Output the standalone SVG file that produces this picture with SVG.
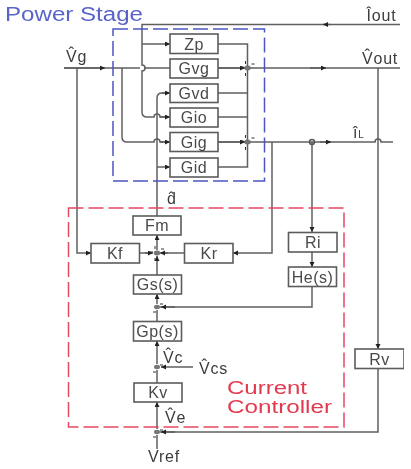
<svg xmlns="http://www.w3.org/2000/svg" xmlns:xlink="http://www.w3.org/1999/xlink" width="411" height="469" viewBox="0 0 411 469">
<style>
text{font-family:"Liberation Sans",Arial,sans-serif}
.b rect{fill:#fff;stroke:#5c5c5c;stroke-width:1.6}
.b text{font-size:16px;fill:#4a4a4a;text-anchor:middle;letter-spacing:.5px}
.c path{fill:none;stroke:#5f5f5f;stroke-width:1.5}
.c path.a{marker-end:url(#ah)}
.l{font-size:16px;fill:#3c3c3c;letter-spacing:.8px}
.s ellipse{fill:#777;stroke:#666;stroke-width:.6}
.s path{stroke:#333;stroke-width:1;fill:none}
</style>
<defs>
<marker id="ah" markerUnits="userSpaceOnUse" markerWidth="6" markerHeight="6" refX="5" refY="2.5" orient="auto"><path d="M0 0L5 2.5L0 5z" fill="#222"/></marker>
<filter id="soft" x="0" y="0" width="100%" height="100%"><feGaussianBlur stdDeviation="0.45"/></filter>
<g id="sj" class="s"><ellipse rx="3" ry="2.2"/><path d="M-2 -7v3M-7 -1h3M-2 5v3M4 -4h3"/></g>
</defs>
<rect width="411" height="469" fill="#fff"/>
<g filter="url(#soft)">
<g id="connectors" class="c">
<path d="M400 24.500H142V44"/>
<path class="a" d="M330 24.500H323"/>
<path class="a" d="M142 44H170"/>
<path d="M64 68H140M145 68H170"/>
<path class="a" d="M64 68H105"/>
<path d="M142 44V65A3 3 0 0 1 142 71V112Q142 117 147 117H154A3 3 0 0 1 160 117H170"/>
<path class="a" d="M160 117H170"/>
<path d="M122 68V137Q122 142 127 142H154A3 3 0 0 1 160 142H170"/>
<path class="a" d="M160 142H170"/>
<path class="a" d="M77 68V253H91"/>
<path d="M157 216V98Q157 93 162 93H170"/>
<path class="a" d="M162 93H170"/>
<path class="a" d="M157 167H170"/>
<path d="M218 44H247.500V142M218 93H247.500M218 117H247.500M218 167H247.500V142"/>
<path d="M218 68H400"/>
<path class="a" d="M218 68H245"/>
<path class="a" d="M310 68H326"/>
<path d="M218 142H375A3 3 0 0 1 381 142H393"/>
<path class="a" d="M218 142H245"/>
<path class="a" d="M320 142H331"/>
<path class="a" d="M312 142V232"/>
<path class="a" d="M312 252V267"/>
<path d="M312 286.500V307H160"/>
<path class="a" d="M175 307H161"/>
<path class="a" d="M272 142V253H233"/>
<path d="M184 253H161"/>
<path class="a" d="M168 253H160"/>
<path d="M139.500 253H152"/>
<path class="a" d="M145 253H153"/>
<path class="a" d="M157 275V256"/>
<path class="a" d="M157 250V235"/>
<path class="a" d="M157 304V294"/>
<path d="M157 321V310"/>
<path class="a" d="M157 364V341"/>
<path d="M157 383V370"/>
<path class="a" d="M157 429V402"/>
<path d="M157 449V435"/>
<path class="a" d="M193 367H161"/>
<path class="a" d="M378 68V349"/>
<path d="M378 368V432H160"/>
<path class="a" d="M175 432H161"/>
<circle cx="312" cy="142" r="2.500" fill="none" stroke="#555" stroke-width="1.400"/>
</g>
<rect id="power-stage-box" x="113" y="29" width="151.500" height="152" fill="none" stroke="#4d55c4" stroke-width="1.500" stroke-dasharray="15 5"/>
<rect id="current-controller-box" x="68.500" y="208" width="275.500" height="219" fill="none" stroke="#e5485f" stroke-width="1.500" stroke-dasharray="15 5"/>
<g id="zp" class="b"><rect x="170" y="34" width="48" height="19.500"/><text x="194" y="49.500">Zp</text></g>
<g id="gvg" class="b"><rect x="170" y="59" width="48" height="19"/><text x="194" y="74">Gvg</text></g>
<g id="gvd" class="b"><rect x="170" y="84" width="48" height="18.500"/><text x="194" y="98.500">Gvd</text></g>
<g id="gio" class="b"><rect x="170" y="108" width="48" height="19"/><text x="194" y="123">Gio</text></g>
<g id="gig" class="b"><rect x="170" y="132.500" width="48" height="19"/><text x="194" y="147.500">Gig</text></g>
<g id="gid" class="b"><rect x="170" y="158" width="48" height="19"/><text x="194" y="173">Gid</text></g>
<g id="fm" class="b"><rect x="133" y="216" width="48" height="19"/><text x="157" y="231">Fm</text></g>
<g id="kf" class="b"><rect x="91" y="243.500" width="48.500" height="19.500"/><text x="115" y="259">Kf</text></g>
<g id="kr" class="b"><rect x="184.500" y="243.500" width="48.500" height="19.500"/><text x="209" y="259">Kr</text></g>
<g id="gs" class="b"><rect x="133.500" y="275" width="48" height="19"/><text x="157.500" y="290">Gs(s)</text></g>
<g id="gp" class="b"><rect x="133.500" y="321.500" width="48" height="19.500"/><text x="157.500" y="337">Gp(s)</text></g>
<g id="kv" class="b"><rect x="134" y="383" width="48" height="19"/><text x="158" y="398">Kv</text></g>
<g id="ri" class="b"><rect x="288.500" y="232.500" width="48.500" height="19.500"/><text x="313" y="248">Ri</text></g>
<g id="he" class="b"><rect x="288.500" y="267" width="48" height="19.500"/><text x="312.500" y="282.500">He(s)</text></g>
<g id="rv" class="b"><rect x="355" y="349" width="49" height="19.500"/><text x="379.500" y="364.500">Rv</text></g>
<g id="sum1"><use xlink:href="#sj" href="#sj" x="247.500" y="68"/></g>
<g id="sum2"><use xlink:href="#sj" href="#sj" x="247.500" y="142"/></g>
<g id="sum3"><use xlink:href="#sj" href="#sj" x="157" y="253"/></g>
<g id="sum4"><ellipse cx="157" cy="307" rx="3" ry="2.200" fill="#777"/><path d="M153 312h3M160 304h3" stroke="#333"/></g>
<g id="sum5"><ellipse cx="157" cy="367" rx="3" ry="2.200" fill="#777"/><path d="M153 372h3M160 365h3" stroke="#333"/></g>
<g id="sum6"><ellipse cx="157" cy="432" rx="3" ry="2.200" fill="#777"/><path d="M153 437h3M160 430h3" stroke="#333"/></g>
<g id="labels">
<text x="5" y="21" font-size="20" fill="#5a63c8" textLength="138" lengthAdjust="spacingAndGlyphs">Power Stage</text>
<text x="227" y="394" font-size="18" fill="#e23a50" textLength="80" lengthAdjust="spacingAndGlyphs">Current</text>
<text x="227" y="413" font-size="18" fill="#e23a50" textLength="105" lengthAdjust="spacingAndGlyphs">Controller</text>
<text class="l" x="66" y="62">V̂g</text>
<text class="l" x="366.500" y="20.500">Îout</text>
<text class="l" x="362" y="64">V̂out</text>
<text class="l" x="353" y="138">î<tspan font-size="10">L</tspan></text>
<text class="l" x="167" y="204">d̂</text>
<text class="l" x="163" y="362.500">V̂c</text>
<text class="l" x="199" y="374">V̂cs</text>
<text class="l" x="165" y="423">V̂e</text>
<text class="l" x="148" y="462">Vref</text>
</g>
</g>
</svg>
